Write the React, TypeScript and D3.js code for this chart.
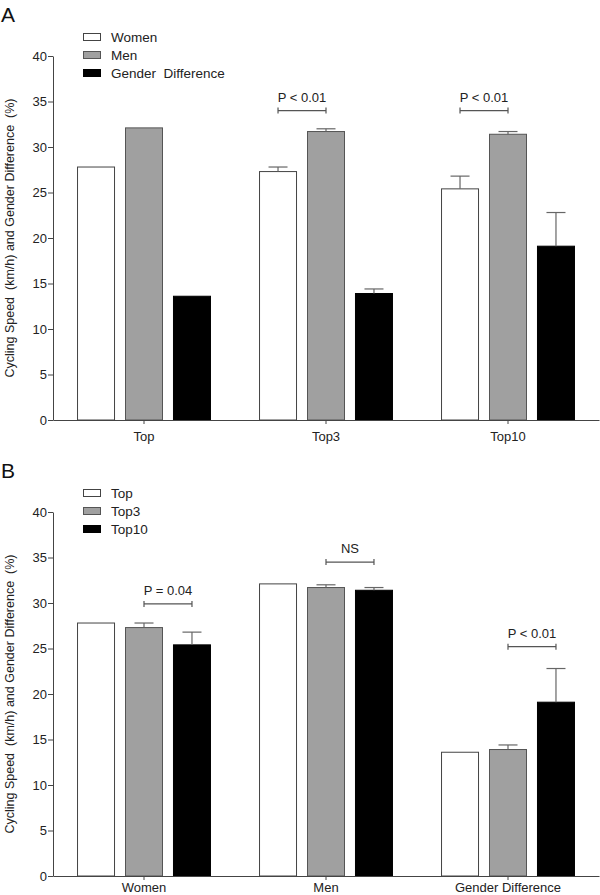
import React, { useRef, useEffect } from 'react';
import * as d3 from 'd3';

// panel A: groups by rank, series by sex
const rankGroups = ['Top', 'Top3', 'Top10'];
const sexSeries = ['Women', 'Men', 'Gender  Difference'];
const womenSpeed = [27.8, 27.3, 25.4];
const womenErr = [0, 0.5, 1.4];
const menSpeed = [32.1, 31.7, 31.4];
const menErr = [0, 0.3, 0.3];
const genderDiff = [13.6, 13.9, 19.1];
const genderDiffErr = [0, 0.5, 3.7];

// panel B: groups by sex, series by rank
const sexGroups = ['Women', 'Men', 'Gender Difference'];
const rankSeries = ['Top', 'Top3', 'Top10'];

const yTicks = [0, 5, 10, 15, 20, 25, 30, 35, 40];
const FILLS = ['#ffffff', '#a0a0a0', '#000000'];
const STROKES = ['#444444', '#555555', '#000000'];

type Bracket = { group: number; from: number; to: number; level: number; label: string };

const bracketsA: Bracket[] = [
  { group: 1, from: 0, to: 1, level: 34, label: 'P < 0.01' },
  { group: 2, from: 0, to: 1, level: 34, label: 'P < 0.01' },
];
const bracketsB: Bracket[] = [
  { group: 0, from: 1, to: 2, level: 29.9, label: 'P = 0.04' },
  { group: 1, from: 1, to: 2, level: 34.5, label: 'NS' },
  { group: 2, from: 1, to: 2, level: 25.2, label: 'P < 0.01' },
];

const FONT = '"Liberation Sans", Arial, sans-serif';

const App = () => {
  const svgRef = useRef<SVGSVGElement>(null);

  useEffect(() => {
    document.body.style.margin = '0';
    const svg = d3.select(svgRef.current);
    svg.selectAll('*').remove();

    const bySex = [womenSpeed, menSpeed, genderDiff];
    const bySexErr = [womenErr, menErr, genderDiffErr];
    // transpose for panel B
    const byRank = rankGroups.map((_, r) => bySex.map(s => s[r]));
    const byRankErr = rankGroups.map((_, r) => bySexErr.map(s => s[r]));

    const drawPanel = (
      offsetY: number,
      letter: string,
      groups: string[],
      series: string[],
      values: number[][], // values[series][group]
      errors: number[][],
      brackets: Bracket[],
      labelGap: number
    ) => {
      const g = svg.append('g').attr('transform', `translate(0,${offsetY})`)
        .attr('font-family', FONT);
      const left = 53, right = 599, top = 56, bottom = 420;

      const y = d3.scaleLinear().domain([0, 40]).range([bottom, top]);
      const x0 = d3.scaleBand<string>().domain(groups).range([left, right])
        .paddingInner(0.264).paddingOuter(0.132);
      const x1 = d3.scaleBand<string>().domain(series).range([0, x0.bandwidth()])
        .paddingInner(0.208).paddingOuter(0);

      g.append('text')
        .attr('x', 1).attr('y', 22)
        .attr('font-size', 21)
        .attr('fill', '#111')
        .text(letter);

      // bars
      series.forEach((s, si) => {
        groups.forEach((grp, gi) => {
          const v = values[si][gi];
          const bx = (x0(grp) ?? 0) + (x1(s) ?? 0);
          g.append('rect')
            .attr('x', bx + 0.5)
            .attr('y', y(v))
            .attr('width', x1.bandwidth() - 1)
            .attr('height', y(0) - y(v))
            .attr('fill', FILLS[si])
            .attr('stroke', STROKES[si])
            .attr('stroke-width', 1);
          const e = errors[si][gi];
          if (e > 0) {
            const cx = bx + x1.bandwidth() / 2;
            g.append('line')
              .attr('x1', cx).attr('x2', cx)
              .attr('y1', y(v)).attr('y2', y(v + e))
              .attr('stroke', '#666').attr('stroke-width', 1.2);
            g.append('line')
              .attr('x1', cx - 9.5).attr('x2', cx + 9.5)
              .attr('y1', y(v + e)).attr('y2', y(v + e))
              .attr('stroke', '#666').attr('stroke-width', 1.2);
          }
        });
      });

      // significance brackets
      brackets.forEach(b => {
        const grp = groups[b.group];
        const xa = (x0(grp) ?? 0) + (x1(series[b.from]) ?? 0) + x1.bandwidth() / 2;
        const xb = (x0(grp) ?? 0) + (x1(series[b.to]) ?? 0) + x1.bandwidth() / 2;
        const by = y(b.level);
        g.append('path')
          .attr('d', `M${xa},${by - 3}V${by + 3}M${xa},${by}H${xb}M${xb},${by - 3}V${by + 3}`)
          .attr('fill', 'none')
          .attr('stroke', '#555')
          .attr('stroke-width', 1.2);
        g.append('text')
          .attr('x', (xa + xb) / 2)
          .attr('y', by - 9)
          .attr('text-anchor', 'middle')
          .attr('font-size', 13)
          .attr('fill', '#222')
          .text(b.label);
      });

      // axes
      const yAxis = g.append('g')
        .attr('transform', `translate(${left},0)`)
        .call(d3.axisLeft(y).tickValues(yTicks).tickSize(5).tickSizeOuter(0).tickPadding(1));
      yAxis.select('.domain').attr('stroke', '#444');
      yAxis.selectAll('.tick line').attr('stroke', '#444');
      yAxis.selectAll('text')
        .attr('font-family', FONT)
        .attr('font-size', 13)
        .attr('fill', '#222');

      const xAxis = g.append('g')
        .attr('transform', `translate(0,${bottom})`)
        .call(d3.axisBottom(x0).tickSize(4).tickSizeOuter(0).tickPadding(labelGap));
      xAxis.select('.domain').attr('stroke', '#444');
      xAxis.selectAll('.tick line').attr('stroke', '#444');
      xAxis.selectAll('text')
        .attr('font-family', FONT)
        .attr('font-size', 13)
        .attr('fill', '#222');

      // y label
      g.append('text')
        .attr('transform', `translate(14,${(top + bottom) / 2}) rotate(-90)`)
        .attr('text-anchor', 'middle')
        .attr('font-size', 12.5)
        .attr('fill', '#222')
        .style('white-space', 'pre')
        .text('Cycling Speed  (km/h) and Gender Difference  (%)');

      // legend
      const legend = g.append('g')
        .selectAll('g')
        .data(series)
        .enter().append('g')
        .attr('transform', (d, i) => `translate(83,${37 + i * 18})`);
      legend.append('rect')
        .attr('x', 0.5).attr('y', -3.5)
        .attr('width', 17).attr('height', 7)
        .attr('fill', (d, i) => FILLS[i])
        .attr('stroke', (d, i) => STROKES[i]);
      legend.append('text')
        .attr('x', 28).attr('y', 0)
        .attr('dy', '0.36em')
        .attr('font-size', 13.5)
        .attr('fill', '#222')
        .style('white-space', 'pre')
        .text(d => d);
    };

    drawPanel(0, 'A', rankGroups, sexSeries, bySex, bySexErr, bracketsA, 8);
    drawPanel(456, 'B', sexGroups, rankSeries, byRank, byRankErr, bracketsB, 3);
  }, []);

  return <svg ref={svgRef} width={600} height={895} style={{ display: 'block', background: '#fff' }} />;
};

export default App;
